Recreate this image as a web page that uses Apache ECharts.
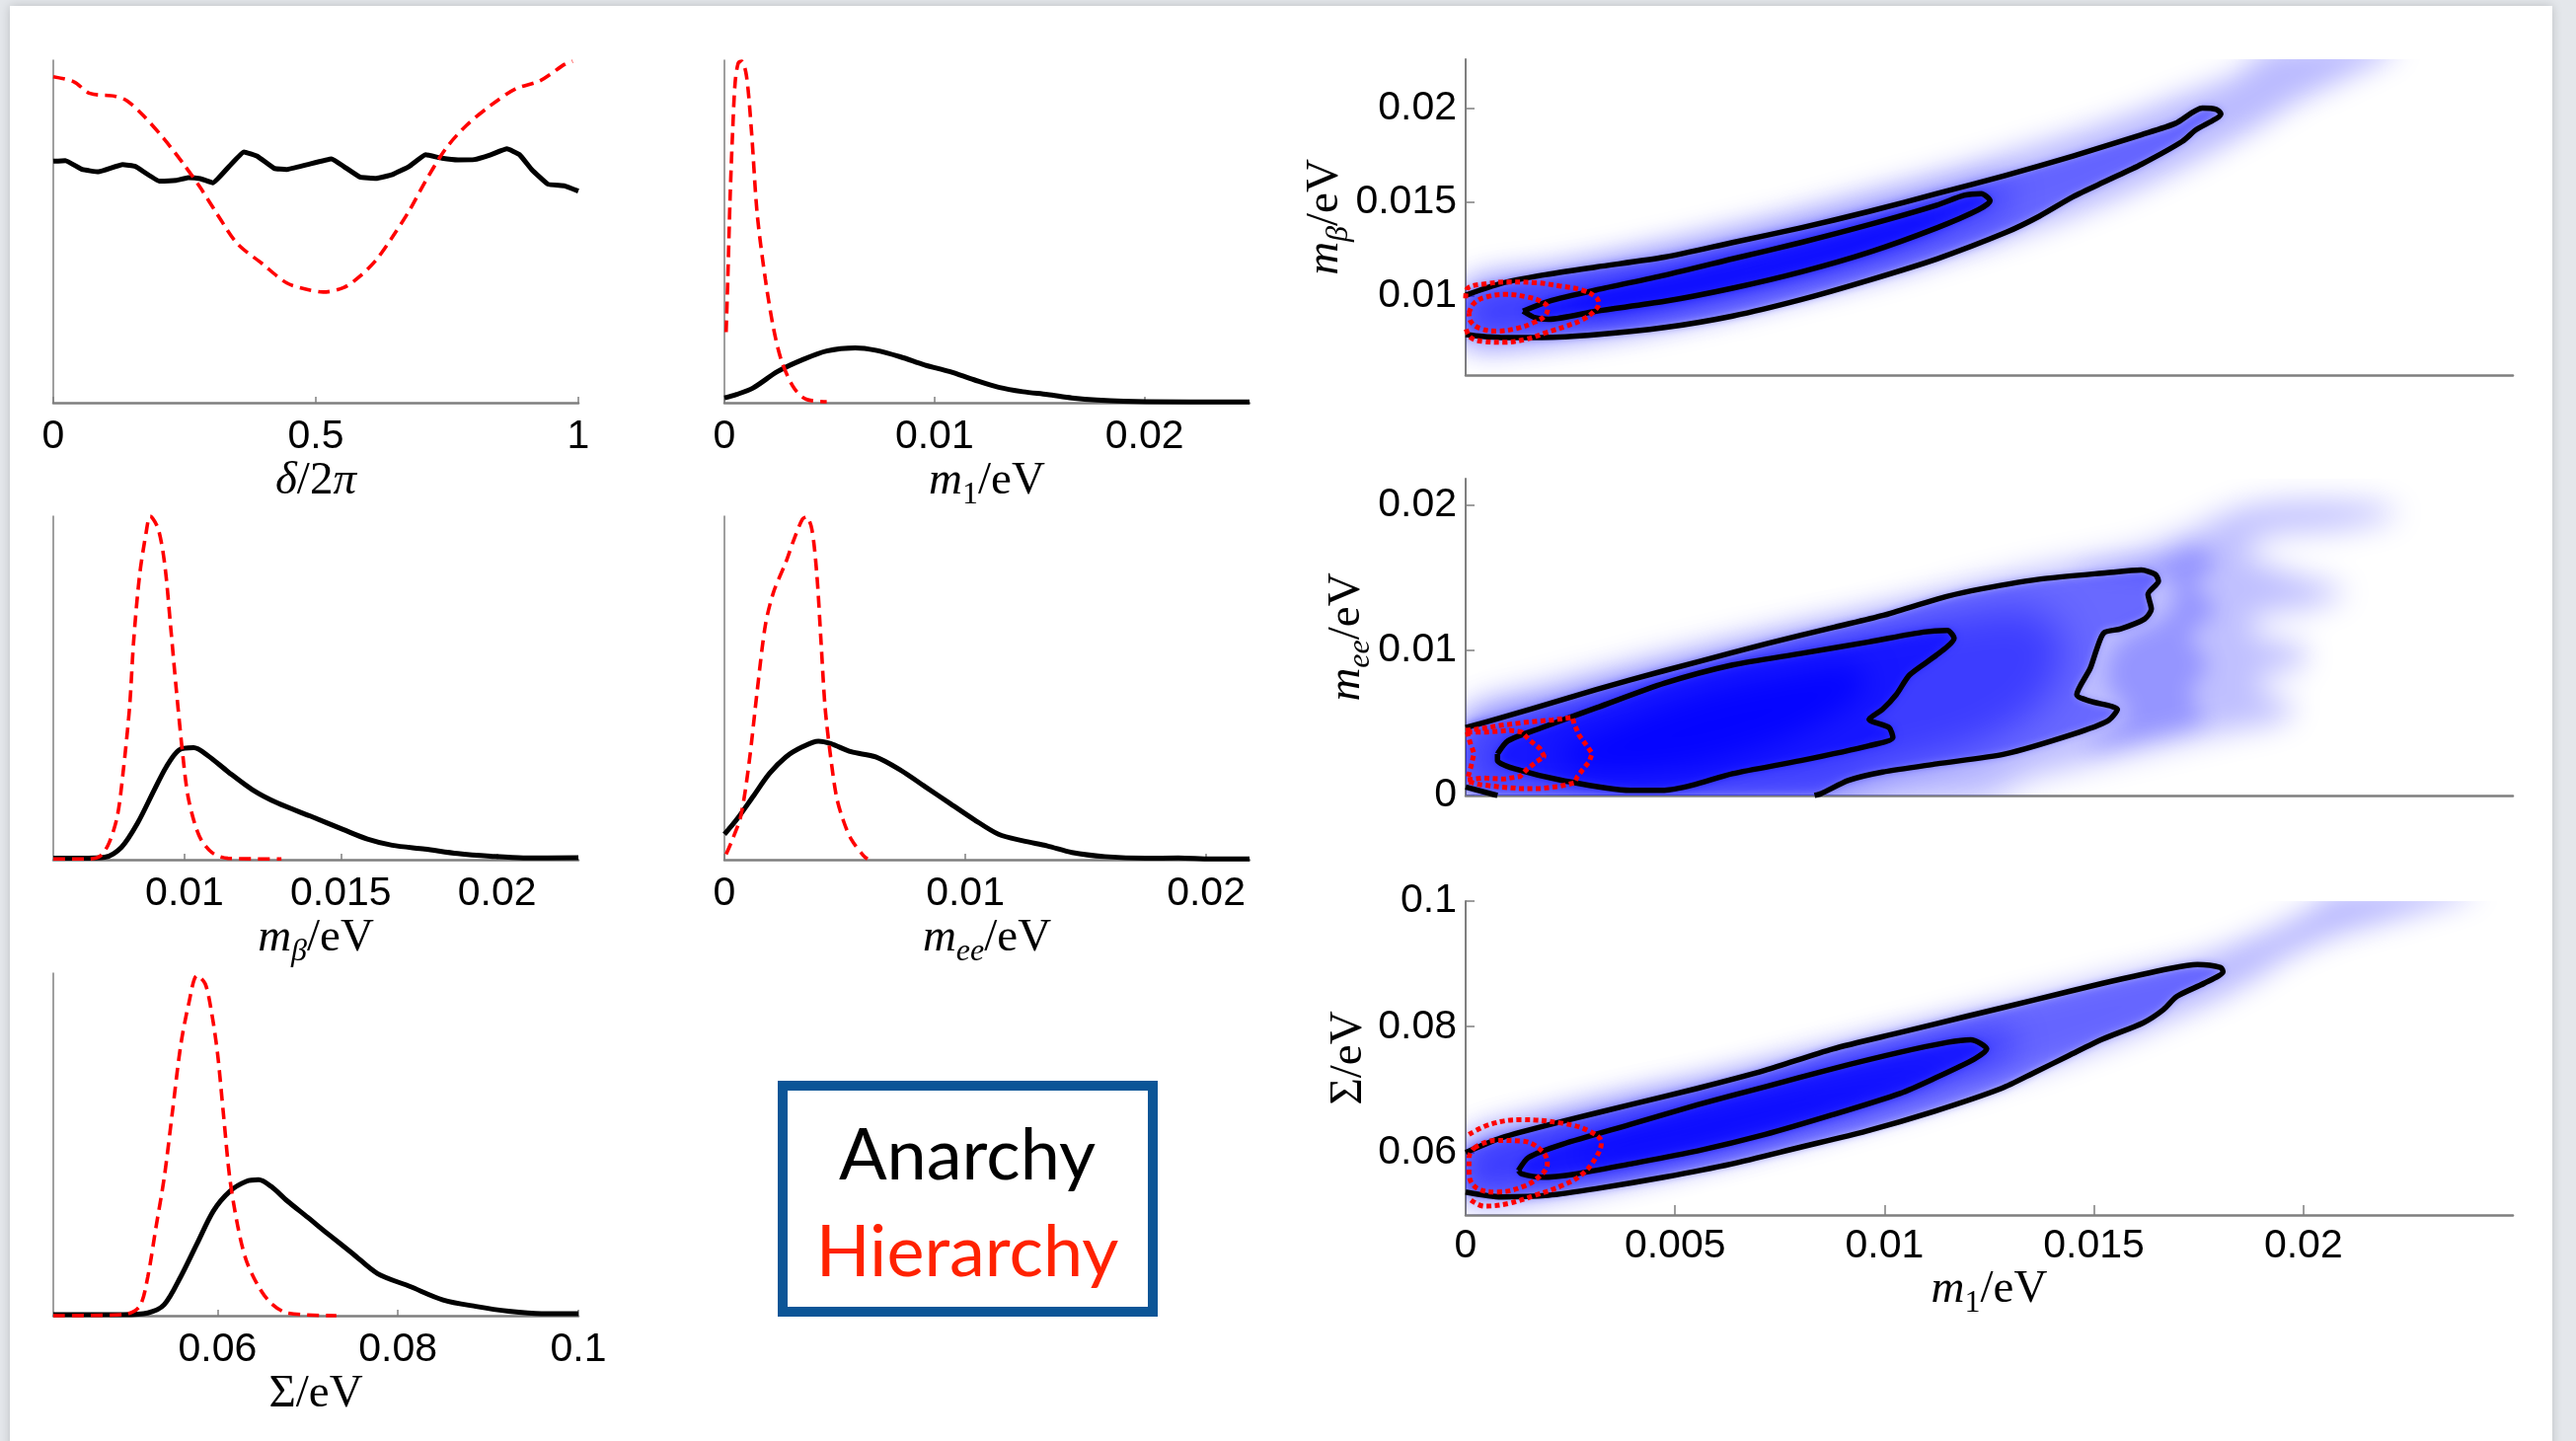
<!DOCTYPE html>
<html><head><meta charset="utf-8">
<script src="https://cdn.jsdelivr.net/npm/echarts@6/dist/echarts.min.js"></script>
<style>html,body{margin:0;padding:0;background:#e4e7eb;}#c{width:2610px;height:1460px;}</style>
</head><body><div id="c"></div>
<script>
// ---------- 1D distributions (x in panel units: δ/2π or meV; y = fraction of axis height) ----------
var deltaAnarchy = [[0,0.705],[0.023,0.707],[0.055,0.681],[0.086,0.674],[0.132,0.695],[0.156,0.69],[0.202,0.647],[0.234,0.649],[0.257,0.657],[0.28,0.654],[0.304,0.642],[0.335,0.69],[0.363,0.732],[0.389,0.719],[0.421,0.684],[0.444,0.681],[0.483,0.695],[0.53,0.712],[0.553,0.69],[0.584,0.659],[0.615,0.655],[0.646,0.666],[0.678,0.69],[0.709,0.724],[0.74,0.714],[0.771,0.709],[0.802,0.71],[0.833,0.724],[0.864,0.741],[0.888,0.724],[0.911,0.681],[0.942,0.638],[0.974,0.633],[1,0.618]];
var deltaHierarchy = [[0,0.952],[0.039,0.937],[0.07,0.903],[0.117,0.895],[0.14,0.882],[0.171,0.839],[0.21,0.772],[0.249,0.695],[0.28,0.628],[0.312,0.551],[0.35,0.465],[0.397,0.407],[0.444,0.35],[0.483,0.331],[0.514,0.323],[0.553,0.336],[0.584,0.369],[0.615,0.417],[0.646,0.484],[0.678,0.561],[0.709,0.647],[0.748,0.743],[0.787,0.81],[0.833,0.868],[0.88,0.916],[0.927,0.94],[0.974,0.988],[0.989,0.997]];
var m1Anarchy = [[0,0.014],[0.58,0.024],[1.36,0.043],[2.53,0.091],[3.7,0.125],[4.87,0.151],[6.23,0.16],[7.2,0.153],[8.37,0.134],[9.54,0.11],[10.71,0.091],[11.88,0.067],[13.05,0.045],[14.21,0.032],[15.38,0.024],[16.55,0.014],[17.72,0.008],[20.05,0.003],[25,0.002]];
var m1Hierarchy = [[0.08,0.206],[0.16,0.36],[0.27,0.599],[0.39,0.791],[0.51,0.935],[0.66,0.992],[0.82,0.997],[1.05,0.954],[1.29,0.791],[1.56,0.551],[1.95,0.36],[2.34,0.216],[2.73,0.12],[3.31,0.043],[3.89,0.01],[4.87,0.003]];
var mbAnarchy = [[5.8,0.004],[6.67,0.004],[7.45,0.007],[7.98,0.036],[8.5,0.107],[9.03,0.203],[9.42,0.271],[9.82,0.319],[10.29,0.326],[10.73,0.304],[11.39,0.256],[12.18,0.203],[12.97,0.165],[14.02,0.127],[15.07,0.088],[15.85,0.06],[16.64,0.042],[17.69,0.031],[18.74,0.018],[19.79,0.01],[20.84,0.005],[22.6,0.006]];
var mbHierarchy = [[5.8,0.002],[6.93,0.002],[7.32,0.012],[7.59,0.05],[7.85,0.127],[8.03,0.251],[8.24,0.443],[8.37,0.635],[8.56,0.827],[8.77,0.952],[8.9,1.0],[9.16,0.962],[9.37,0.856],[9.55,0.683],[9.74,0.491],[9.95,0.299],[10.13,0.175],[10.47,0.069],[10.87,0.021],[11.39,0.004],[13.1,0.002]];
var meeAnarchy = [[0,0.074],[0.51,0.117],[1.19,0.184],[1.87,0.251],[2.55,0.299],[3.23,0.328],[3.9,0.345],[4.41,0.338],[5.26,0.314],[6.28,0.299],[7.3,0.261],[8.32,0.213],[9.34,0.165],[10.36,0.117],[11.38,0.074],[12.39,0.055],[13.41,0.04],[14.43,0.021],[15.79,0.009],[17.49,0.004],[18.85,0.005],[20.2,0.002],[21.8,0.002]];
var meeHierarchy = [[0.07,0.016],[0.34,0.06],[0.68,0.127],[1.02,0.28],[1.36,0.491],[1.7,0.683],[2.04,0.779],[2.55,0.866],[2.89,0.933],[3.23,0.99],[3.4,0.998],[3.63,0.962],[3.84,0.827],[4.01,0.635],[4.18,0.443],[4.41,0.299],[4.65,0.184],[4.92,0.117],[5.26,0.06],[5.77,0.012],[5.94,0.002]];
var sigmaAnarchy = [[41.8,0.003],[49.55,0.003],[52.27,0.008],[54.09,0.032],[55.91,0.113],[57.73,0.21],[59.55,0.306],[61.36,0.363],[63.18,0.392],[64.55,0.397],[65.91,0.378],[67.73,0.335],[70,0.287],[72.27,0.238],[75,0.181],[77.73,0.123],[81.36,0.085],[85,0.046],[88.64,0.027],[92.27,0.013],[95.91,0.006],[100,0.006]];
var sigmaHierarchy = [[41.8,0],[49.55,0.003],[51.36,0.027],[52.27,0.113],[53.18,0.258],[54.09,0.402],[55,0.594],[55.91,0.787],[56.82,0.912],[57.73,0.993],[58.64,0.969],[59.36,0.883],[60,0.767],[60.64,0.594],[61.36,0.402],[62.27,0.258],[63.18,0.162],[64.55,0.085],[65.91,0.037],[67.73,0.008],[73.18,0]];

// ---------- tick labels ----------
var deltaTicks = [0, 0.5, 1];
var m1Ticks = [0, 10, 20];
var mbTicks = [10, 15, 20];
var meeTicks = [0, 10, 20];
var sigmaTicks = [60, 80, 100];
var m1Ticks2D = [0, 5, 10, 15, 20];

// ---------- 2D: m_beta vs m1 (meV) ----------
var mbOuter = [[0,10.05],[0.85,10.68],[1.82,11.11],[3.12,11.55],[4.75,12.07],[6.37,12.85],[8.0,13.63],[9.63,14.5],[11.25,15.45],[12.88,16.41],[14.5,17.45],[16.13,18.58],[16.94,19.18],[17.59,20.0],[17.92,19.93],[18.03,19.7],[17.43,18.84],[17.11,18.23],[16.13,17.01],[15.32,16.15],[14.5,15.28],[13.69,14.24],[12.88,13.37],[11.25,11.98],[9.63,10.85],[8.0,9.81],[6.37,8.94],[4.75,8.33],[3.12,7.95],[1.82,7.8],[0.85,7.8],[0.2,7.9],[0,7.95]];
var mbInner = [[1.37,9.2],[1.98,9.72],[3.12,10.33],[4.75,11.11],[6.37,11.98],[8.0,12.85],[9.63,13.8],[11.25,14.84],[11.9,15.36],[12.31,15.45],[12.52,15.07],[12.23,14.58],[11.25,13.63],[9.63,12.33],[8.0,11.28],[6.37,10.42],[4.75,9.72],[3.12,9.2],[1.98,8.77],[1.66,8.85],[1.37,9.2]];
var mbRedOuter = [[0,9.88],[0.04,10.4],[0.51,10.66],[1.06,10.75],[1.69,10.71],[2.24,10.54],[2.79,10.31],[3.1,9.96],[3.18,9.62],[3.06,9.18],[2.79,8.75],[2.4,8.4],[1.93,8.06],[1.45,7.71],[0.9,7.54],[0.43,7.59],[0.12,7.8],[0,8.32]];
var mbRedInner = [[0.08,9.1],[0.2,9.62],[0.51,9.96],[0.98,10.09],[1.45,9.96],[1.81,9.7],[1.96,9.36],[1.88,8.92],[1.61,8.58],[1.22,8.28],[0.75,8.14],[0.35,8.28],[0.12,8.66],[0.08,9.1]];
var mbHalo = [[0,10.7],[2,11.6],[4,12.5],[6,13.5],[8,14.6],[10,15.8],[12,17.0],[14,18.3],[15.8,19.6],[17.0,20.6],[18.4,21.8],[19.3,23.2],[22.3,23.2],[21.0,21.6],[19.8,20.3],[18.9,19.0],[18.0,17.9],[16.6,16.3],[14.6,14.4],[12.4,12.7],[10.2,11.2],[8,10.0],[6,8.9],[4,8.0],[2,7.4],[0,7.3]];
var mbMid = [[0,9.9],[3,11.1],[6,12.4],[9,13.9],[11.5,15.2],[13,15.9],[12.8,14.6],[10.5,12.6],[8,11.0],[5,9.4],[2,8.3],[0,8.2]];
var mbCore = [[2.5,9.5],[5,10.6],[8,12.2],[10.5,13.9],[11.6,14.7],[10.8,13.5],[8.2,11.6],[5.2,10.0],[3.0,9.1]];

// ---------- 2D: m_ee vs m1 (meV) ----------
var meeOuter = [[0,4.67],[0.85,5.35],[2.31,6.6],[3.93,7.96],[5.56,9.21],[7.19,10.45],[8.81,11.59],[9.95,12.38],[11.25,13.51],[12.07,14.08],[13.69,14.88],[15.32,15.33],[16.13,15.51],[16.46,15.22],[16.54,14.76],[16.29,13.85],[16.37,12.83],[16.21,12.15],[15.64,11.47],[15.24,11.2],[15.07,10.11],[14.91,8.75],[14.59,6.94],[14.91,6.49],[15.56,5.92],[15.32,5.12],[14.5,4.22],[12.88,2.86],[11.25,2.18],[9.95,1.61],[9.14,1.04],[8.49,0.14],[8.33,0]];
var meeOuterCorner = [[0,0.59],[0.76,0]];
var meeInner = [[0.76,2.86],[1.01,3.76],[1.82,4.67],[3.12,6.03],[4.75,7.73],[6.37,8.98],[8.0,9.77],[9.63,10.57],[10.93,11.25],[11.5,11.36],[11.66,10.82],[11.25,9.68],[10.6,8.3],[10.28,6.94],[9.95,5.92],[9.63,5.24],[10.11,4.67],[10.2,3.99],[9.63,3.42],[8.0,2.4],[6.37,1.5],[5.4,0.7],[4.75,0.36],[3.93,0.36],[2.31,1.04],[1.17,1.84],[0.76,2.4],[0.76,2.86]];
var meeRedOuter = [[0,4.48],[0.35,4.59],[0.82,4.82],[1.45,5.04],[2.08,5.2],[2.55,5.38],[2.59,4.93],[2.71,4.14],[2.91,3.35],[3.02,2.9],[2.95,2.33],[2.79,1.77],[2.67,1.31],[2.59,0.86],[2.24,0.63],[1.77,0.48],[1.3,0.48],[0.82,0.59],[0.35,0.75],[0.04,0.97]];
var meeRedInner = [[0.04,4.37],[0.51,4.37],[1.06,4.48],[1.34,4.37],[1.53,3.8],[1.77,3.24],[1.88,2.67],[1.69,2.33],[1.45,1.77],[1.3,1.31],[0.9,1.13],[0.43,1.2],[0.04,1.09],[0.12,1.9],[0.2,2.9],[0.1,3.7],[0.04,4.37]];
var meeHalo = [[0,5.6],[2,7.1],[4,8.6],[6,10.0],[8,11.5],[10,12.9],[12,14.5],[14,15.8],[16,16.9],[17.3,18.2],[18.3,19.6],[19.5,20.2],[21.5,20.1],[22.3,19.4],[21.0,18.4],[19.2,17.9],[18.6,16.8],[19.6,15.4],[21.0,14.0],[20.2,13.0],[18.8,12.2],[18.9,11.0],[20.0,10.2],[20.0,9.0],[19.0,8.2],[19.0,7.2],[19.8,6.2],[19.5,5.2],[18.0,4.3],[16.5,3.3],[15.0,2.3],[13.5,1.2],[12.2,-0.5],[0,-0.5]];
var meeShoulder = [[14.5,15.6],[16.5,16.2],[17.4,17.2],[17.9,16.0],[17.4,14.5],[17.9,12.8],[17.3,11.0],[17.7,9.0],[17.3,7.0],[17.6,5.2],[16.3,4.0],[14.8,3.2],[15.8,5.5],[15.3,8.0],[15.6,10.5],[16.8,12.5],[16.9,14.8]];
var meeMid = [[0,4.6],[3,7.4],[6,9.6],[9,11.2],[11.5,12.3],[13.5,12.8],[14.3,10.5],[13.8,6.5],[12.3,3.6],[10,1.7],[8.4,0],[0.8,0],[0,0.6]];
var meeCore = [[2.2,3.0],[3.8,5.2],[5.5,7.0],[7.5,8.3],[9.3,8.9],[9.6,7.6],[8.8,5.6],[7.6,3.8],[5.8,2.2],[3.8,1.5],[2.6,1.9]];

// ---------- 2D: Sigma vs m1 (meV) ----------
var sigmaOuter = [[0,59.95],[0.85,62.3],[2.31,64.92],[3.92,67.54],[5.53,70.16],[7.15,73.04],[8.76,76.44],[10.37,79.06],[11.98,81.68],[13.6,84.29],[15.21,86.91],[16.82,89.27],[17.47,89.9],[18.03,89.42],[18.08,88.74],[17.63,86.91],[16.98,84.82],[16.66,82.72],[16.18,80.63],[15.21,78.01],[14.4,75.39],[13.6,72.77],[12.79,70.16],[11.18,66.49],[9.56,63.35],[7.95,60.73],[6.34,58.12],[4.73,56.02],[3.11,54.19],[1.98,53.14],[0.85,52.88],[0,53.66]];
var sigmaInner = [[1.26,57.07],[1.5,59.16],[2.31,61.26],[3.92,64.4],[5.53,67.54],[7.15,70.42],[8.76,73.3],[10.37,75.92],[11.5,77.49],[12.06,77.91],[12.44,76.44],[12.15,74.87],[11.18,71.73],[10.37,69.37],[8.76,65.97],[7.15,62.83],[5.53,60.21],[3.92,58.12],[2.63,56.54],[1.82,56.02],[1.34,56.54],[1.26,57.07]];
var sigmaRedOuter = [[0.08,62.83],[0.61,64.5],[1.34,65.18],[2.31,64.6],[2.95,63.35],[3.24,61.52],[3.11,59.16],[2.79,56.54],[2.31,54.71],[1.66,53.14],[1.02,51.83],[0.45,51.41],[0.08,52.62]];
var sigmaRedInner = [[0.21,60.73],[0.69,61.88],[1.34,61.78],[1.82,60.21],[1.95,58.12],[1.74,56.02],[1.34,54.45],[0.77,53.66],[0.29,54.19],[0.08,56.54],[0.08,59.16],[0.21,60.73]];
var sigmaHalo = [[0,61.8],[2,66],[4,69.2],[6,72.2],[8,75.6],[10,79],[12,82.4],[14,85.6],[16,88.8],[17.6,91.4],[19.2,95.5],[20.2,99],[20.8,101.5],[24.2,101.5],[22.6,98],[20.8,94.5],[19.6,91],[18.9,87.8],[17.8,84],[16.4,80],[14.6,75.5],[12.6,71],[10.5,66.6],[8.3,62.6],[6.2,59],[4.2,56],[2.2,53.3],[0,52.2]];
var sigmaMid = [[0,60.5],[3,66.3],[6,70.4],[9,74.8],[11.5,78.3],[13,79.3],[13,75.5],[11.2,71.2],[8.2,64.8],[5.2,59.3],[2,55],[0,54.2]];
var sigmaCore = [[2.5,59.6],[5,63.6],[7.5,67.6],[10,71.6],[11.4,73.8],[10.6,71.4],[8.2,66.6],[5.6,62.1],[3.5,59.2]];

// ---------- styling ----------
var SANS = 'Liberation Sans';
var SERIF = 'Liberation Serif';
var AX = '#7f7f7f';
var OFF = 4000;
var RICH = {
  i: {fontFamily: SERIF, fontStyle: 'italic', fontSize: 47, lineHeight: 60, color: '#000'},
  n: {fontFamily: SERIF, fontSize: 47, lineHeight: 60, color: '#000'},
  s: {fontFamily: SERIF, fontStyle: 'italic', fontSize: 32, lineHeight: 32, verticalAlign: 'bottom', color: '#000'},
  u: {fontFamily: SERIF, fontSize: 32, lineHeight: 32, verticalAlign: 'bottom', color: '#000'}
};
function fmt(v) { return String(+(v / 1000).toFixed(6)); }
function fmtPlain(v) { return String(v); }

var grids = [
  {left: 54, top: 61, width: 532, height: 347},
  {left: 734, top: 61, width: 532, height: 347},
  {left: 54, top: 523, width: 532, height: 348},
  {left: 734, top: 523, width: 532, height: 348},
  {left: 54, top: 986, width: 532, height: 347},
  {left: 1485, top: 60, width: 1061, height: 320},
  {left: 1485, top: 485, width: 1061, height: 321},
  {left: 1485, top: 913, width: 1061, height: 318}
].map(function (g) { g.containLabel = false; g.outerBoundsMode = 'none'; return g; });

function x1d(i, min, max, ticks, name, f) {
  return {type: 'value', gridIndex: i, min: min, max: max,
    axisLine: {show: true, onZero: false, lineStyle: {color: AX, width: 2.5}},
    axisTick: {show: true, inside: true, length: 6, lineStyle: {color: AX, width: 1.5}, customValues: ticks},
    axisLabel: {show: true, customValues: ticks, formatter: f, fontFamily: SANS, fontSize: 41, color: '#000', margin: 14},
    splitLine: {show: false}, name: name, nameLocation: 'middle', nameGap: 50, nameMoveOverlap: false,
    nameTextStyle: {rich: RICH}};
}
function y1d(i) {
  return {type: 'value', gridIndex: i, min: 0, max: 1,
    axisLine: {show: true, onZero: false, lineStyle: {color: AX, width: 1.5}},
    axisTick: {show: false}, axisLabel: {show: false}, splitLine: {show: false}};
}
function x2d(i, showLabels) {
  var a = {type: 'value', gridIndex: i, min: 0, max: 25,
    axisLine: {show: true, onZero: false, lineStyle: {color: AX, width: 2.5}},
    axisTick: {show: showLabels, inside: true, length: 10, lineStyle: {color: AX, width: 1.5}, customValues: [5, 10, 15, 20]},
    axisLabel: {show: showLabels, customValues: m1Ticks2D, formatter: fmt, fontFamily: SANS, fontSize: 41, color: '#000', margin: 11},
    splitLine: {show: false}};
  if (showLabels) {
    a.name = '{i|m}{u|1}{n|/eV}'; a.nameLocation = 'middle'; a.nameGap = 46; a.nameMoveOverlap = false;
    a.nameTextStyle = {rich: RICH};
  }
  return a;
}
function y2d(i, min, max, ticks, name, gap) {
  return {type: 'value', gridIndex: i, min: min, max: max,
    axisLine: {show: true, onZero: false, lineStyle: {color: AX, width: 2}},
    axisTick: {show: true, inside: true, length: 9, lineStyle: {color: AX, width: 1.5}, customValues: ticks},
    axisLabel: {show: true, customValues: ticks, formatter: fmt, fontFamily: SANS, fontSize: 41, color: '#000', margin: 9},
    splitLine: {show: false}, name: name, nameLocation: 'middle', nameGap: gap, nameMoveOverlap: false,
    nameTextStyle: {rich: RICH}};
}

var xAxes = [
  x1d(0, 0, 1, deltaTicks, '{i|δ}{n|/2}{i|π}', fmtPlain),
  x1d(1, 0, 25, m1Ticks, '{i|m}{u|1}{n|/eV}', fmt),
  x1d(2, 5.8, 22.6, mbTicks, '{i|m}{s|β}{n|/eV}', fmt),
  x1d(3, 0, 21.8, meeTicks, '{i|m}{s|ee}{n|/eV}', fmt),
  x1d(4, 41.8, 100, sigmaTicks, '{n|Σ/eV}', fmt),
  x2d(5, false), x2d(6, false), x2d(7, true)
];
var yAxes = [
  y1d(0), y1d(1), y1d(2), y1d(3), y1d(4),
  y2d(5, 5.8, 22.6, mbTicks, '{i|m}{s|β}{n|/eV}', 112),
  y2d(6, 0, 21.8, meeTicks, '{i|m}{s|ee}{n|/eV}', 90),
  y2d(7, 50, 100, sigmaTicks, '{n|Σ/eV}', 88)
];

var series = [];
function anarchy(i, data, smooth) {
  series.push({type: 'line', xAxisIndex: i, yAxisIndex: i, data: data, showSymbol: false, smooth: smooth,
    clip: false, z: 3, lineStyle: {color: '#000', width: 5, join: 'round'}});
}
function hierarchy(i, data) {
  series.push({type: 'line', xAxisIndex: i, yAxisIndex: i, data: data, showSymbol: false, smooth: 0.3,
    clip: false, z: 4, lineStyle: {color: '#ff0000', width: 3.6, type: [12, 7]}});
}
anarchy(0, deltaAnarchy, 0.1); hierarchy(0, deltaHierarchy);
anarchy(1, m1Anarchy, 0.3); hierarchy(1, m1Hierarchy);
anarchy(2, mbAnarchy, 0.3); hierarchy(2, mbHierarchy);
anarchy(3, meeAnarchy, 0.3); hierarchy(3, meeHierarchy);
anarchy(4, sigmaAnarchy, 0.3); hierarchy(4, sigmaHierarchy);

// soft density layers: polygon drawn off-canvas, only its blurred shadow lands in the plot
function density(i, pts, alpha, blur) {
  series.push({type: 'custom', xAxisIndex: i, yAxisIndex: i, coordinateSystem: 'cartesian2d',
    clip: true, silent: true, z: 1, data: [pts[0]],
    renderItem: function (params, api) {
      var P = pts.map(function (p) { var c = api.coord(p); return [c[0] - OFF, c[1]]; });
      return {type: 'polygon', shape: {points: P, smooth: 0.3},
        style: {fill: '#0000ff', shadowBlur: blur, shadowColor: 'rgba(0,0,255,' + alpha + ')', shadowOffsetX: OFF}};
    }});
}
function contour(i, pts) {
  series.push({type: 'line', xAxisIndex: i, yAxisIndex: i, data: pts, showSymbol: false, smooth: 0.25,
    clip: true, z: 5, lineStyle: {color: '#000', width: 5.5, join: 'round'}});
}
function redContour(i, pts, smooth) {
  series.push({type: 'line', xAxisIndex: i, yAxisIndex: i, data: pts, showSymbol: false, smooth: smooth,
    clip: true, z: 6, lineStyle: {color: '#ff0000', width: 5, type: [5, 3.5]}});
}

// panel: m_beta vs m1
density(5, mbHalo, 0.27, 28);
density(5, mbOuter, 0.46, 8);
density(5, mbMid, 0.42, 35);
density(5, mbInner, 0.62, 10);
density(5, mbCore, 0.8, 25);
contour(5, mbOuter); contour(5, mbInner);
redContour(5, mbRedOuter, 0.4); redContour(5, mbRedInner, 0.4);

// panel: m_ee vs m1
density(6, meeHalo, 0.25, 30);
density(6, meeShoulder, 0.22, 22);
density(6, meeOuter.concat(meeOuterCorner.slice().reverse()), 0.45, 8);
density(6, meeMid, 0.42, 40);
density(6, meeInner, 0.62, 10);
density(6, meeCore, 0.8, 30);
contour(6, meeOuter); contour(6, meeOuterCorner); contour(6, meeInner);
redContour(6, meeRedOuter, 0); redContour(6, meeRedInner, 0);

// panel: Sigma vs m1
density(7, sigmaHalo, 0.27, 28);
density(7, sigmaOuter, 0.46, 8);
density(7, sigmaMid, 0.42, 35);
density(7, sigmaInner, 0.62, 10);
density(7, sigmaCore, 0.8, 25);
contour(7, sigmaOuter); contour(7, sigmaInner);
redContour(7, sigmaRedOuter, 0.4); redContour(7, sigmaRedInner, 0.4);

var chart = echarts.init(document.getElementById('c'), null, {renderer: 'canvas'});
chart.setOption({
  backgroundColor: '#e4e7eb',
  animation: false,
  textStyle: {fontFamily: SANS},
  grid: grids, xAxis: xAxes, yAxis: yAxes, series: series,
  graphic: [
    {type: 'rect', z: -100, shape: {x: 10, y: 6, width: 2576, height: 1480},
      style: {fill: '#ffffff', shadowBlur: 10, shadowColor: 'rgba(0,0,0,0.18)'}},
    {type: 'rect', z: 10, shape: {x: 793, y: 1100, width: 375, height: 229},
      style: {fill: '#ffffff', stroke: '#0b5597', lineWidth: 10}},
    {type: 'text', z: 11, x: 980, y: 1172,
      style: {text: 'Anarchy', fill: '#000000', font: '72px Lato', align: 'center', verticalAlign: 'middle'}},
    {type: 'text', z: 11, x: 980, y: 1270,
      style: {text: 'Hierarchy', fill: '#ff2200', font: '72px Lato', align: 'center', verticalAlign: 'middle'}}
  ]
});
</script></body></html>
